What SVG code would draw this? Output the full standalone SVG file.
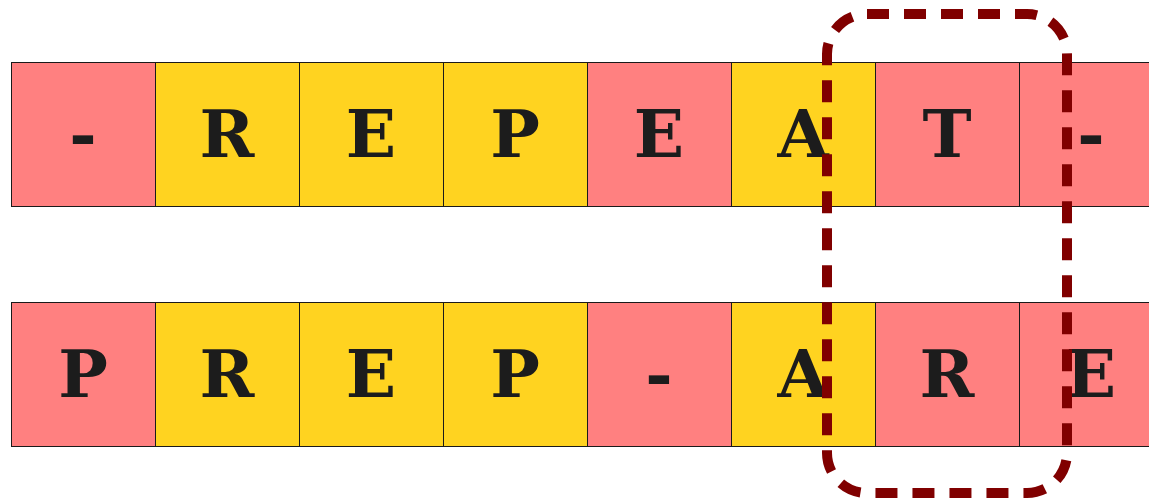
<svg xmlns="http://www.w3.org/2000/svg" width="1149" height="501" viewBox="0 0 1149 501">
<style>
.p{fill:#FF8080;stroke:#1a1a1a;stroke-width:1}
.y{fill:#FFD320;stroke:#1a1a1a;stroke-width:1}
.t{font-family:"DejaVu Serif",serif;font-weight:bold;font-size:66px;fill:#1c1c1c;text-anchor:middle}
.sel{fill:none;stroke:#800000;stroke-width:10;stroke-dasharray:22 15}
</style>
<rect width="1149" height="501" fill="#ffffff"/>
<g id="row1">
<g id="r1c1"><rect class="p" x="11.5" y="62.5" width="144" height="144"/><text class="t" x="83" y="157">-</text></g>
<g id="r1c2"><rect class="y" x="155.5" y="62.5" width="144" height="144"/><text class="t" x="227" y="157">R</text></g>
<g id="r1c3"><rect class="y" x="299.5" y="62.5" width="144" height="144"/><text class="t" x="371" y="157">E</text></g>
<g id="r1c4"><rect class="y" x="443.5" y="62.5" width="144" height="144"/><text class="t" x="515" y="157">P</text></g>
<g id="r1c5"><rect class="p" x="587.5" y="62.5" width="144" height="144"/><text class="t" x="659" y="157">E</text></g>
<g id="r1c6"><rect class="y" x="731.5" y="62.5" width="144" height="144"/><text class="t" x="803" y="157">A</text></g>
<g id="r1c7"><rect class="p" x="875.5" y="62.5" width="144" height="144"/><text class="t" x="947" y="157">T</text></g>
<g id="r1c8"><rect class="p" x="1019.5" y="62.5" width="144" height="144"/><text class="t" x="1091" y="157">-</text></g>
</g>
<g id="row2">
<g id="r2c1"><rect class="p" x="11.5" y="302.5" width="144" height="144"/><text class="t" x="83" y="397">P</text></g>
<g id="r2c2"><rect class="y" x="155.5" y="302.5" width="144" height="144"/><text class="t" x="227" y="397">R</text></g>
<g id="r2c3"><rect class="y" x="299.5" y="302.5" width="144" height="144"/><text class="t" x="371" y="397">E</text></g>
<g id="r2c4"><rect class="y" x="443.5" y="302.5" width="144" height="144"/><text class="t" x="515" y="397">P</text></g>
<g id="r2c5"><rect class="p" x="587.5" y="302.5" width="144" height="144"/><text class="t" x="659" y="397">-</text></g>
<g id="r2c6"><rect class="y" x="731.5" y="302.5" width="144" height="144"/><text class="t" x="803" y="397">A</text></g>
<g id="r2c7"><rect class="p" x="875.5" y="302.5" width="144" height="144"/><text class="t" x="947" y="397">R</text></g>
<g id="r2c8"><rect class="p" x="1019.5" y="302.5" width="144" height="144"/><text class="t" x="1091" y="397">E</text></g>
</g>
<g id="selection">
<rect class="sel" x="827" y="14" width="240" height="479" rx="40" ry="40"/>
</g>
</svg>
